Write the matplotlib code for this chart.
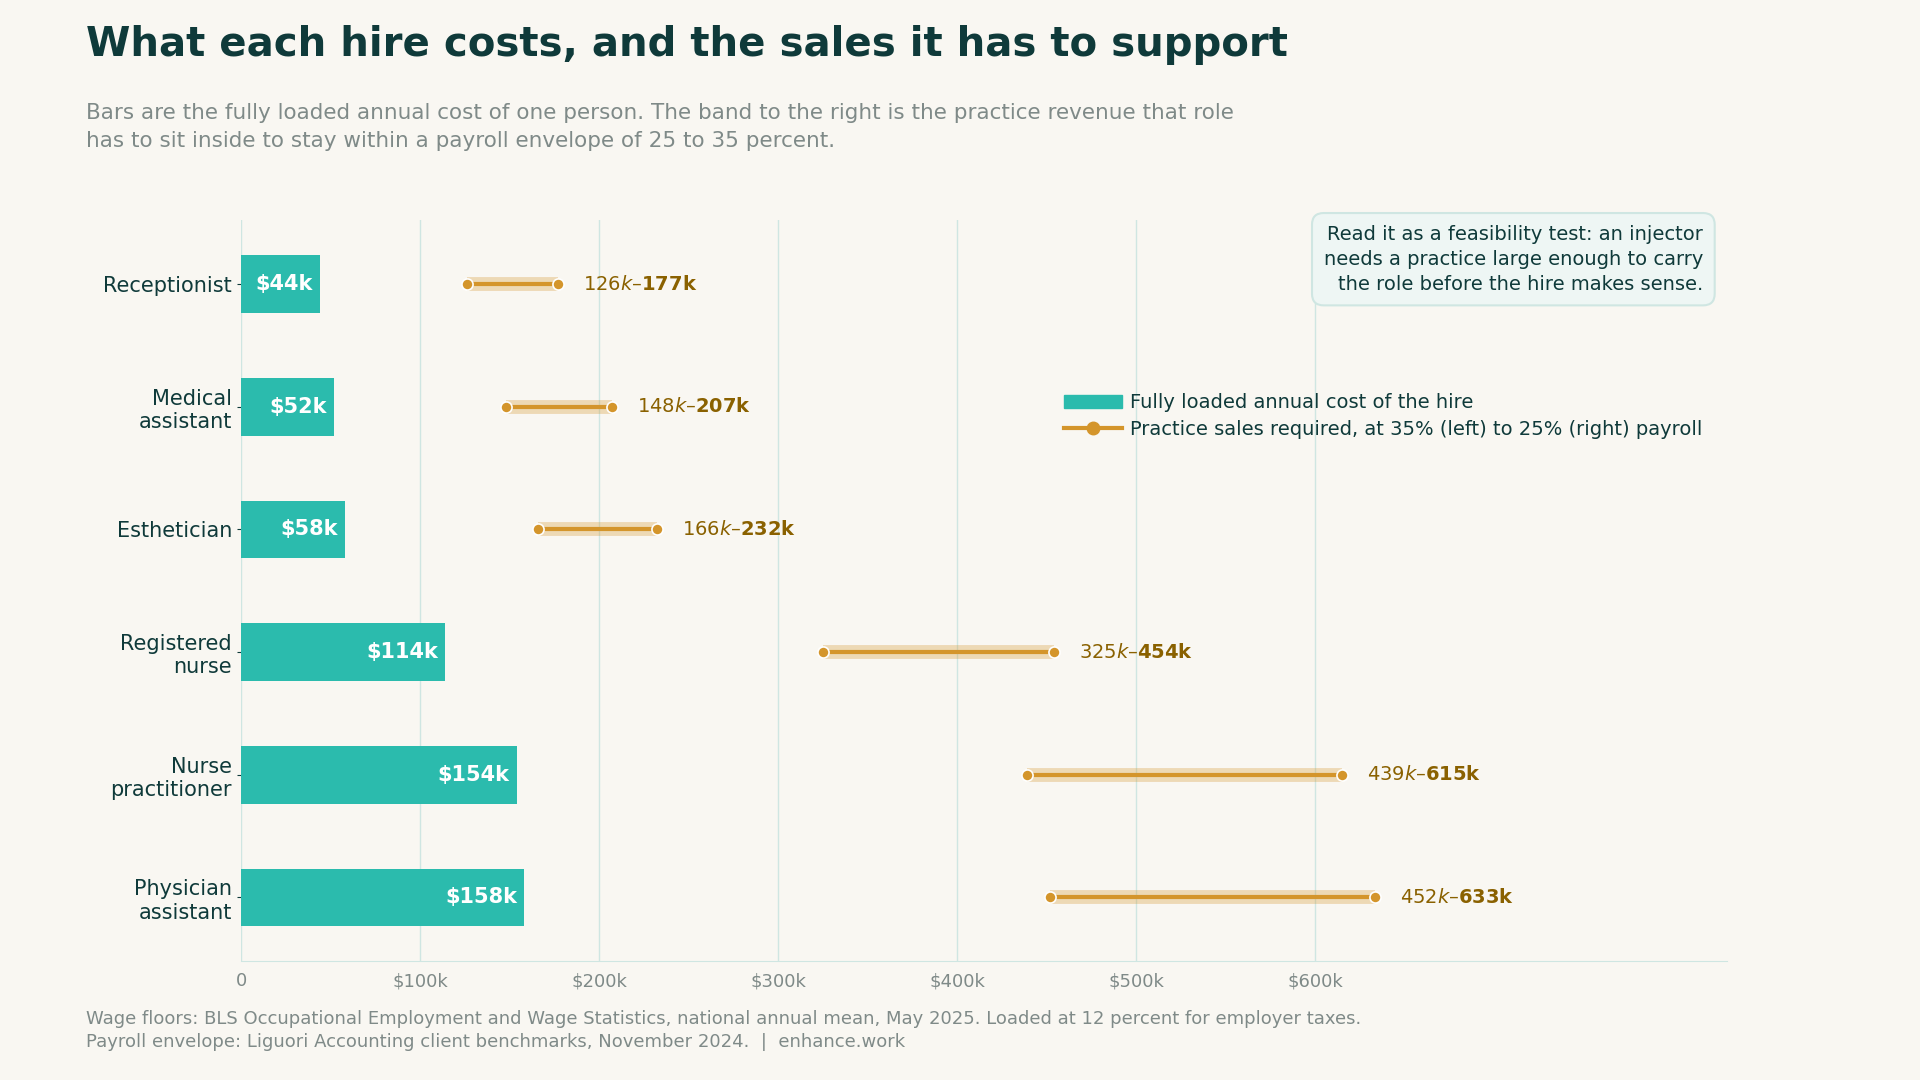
import matplotlib
matplotlib.use("Agg")
import matplotlib.pyplot as plt
from matplotlib.lines import Line2D
from matplotlib.patches import Patch

roles = ["Receptionist", "Medical\nassistant", "Esthetician", "Registered\nnurse", "Nurse\npractitioner", "Physician\nassistant"]
cost_k = [44, 52, 58, 114, 154, 158]
sales_low_k = [126, 148, 166, 325, 439, 452]
sales_high_k = [177, 207, 232, 454, 615, 633]
xticks_k = [0, 100, 200, 300, 400, 500, 600]
xtick_labels = ["0", "$100k", "$200k", "$300k", "$400k", "$500k", "$600k"]

BG = "#f9f7f2"; TEAL = "#2bbbad"; ORANGE = "#d4952b"; GOLD = "#8a6100"; DARK = "#0f3a3a"; GREY = "#7f8a88"

fig = plt.figure(figsize=(19.2, 10.8), dpi=100, facecolor=BG)
ax = fig.add_axes([0.1256, 0.11, 0.774, 0.686], facecolor=BG)

y = list(range(len(roles)))
ax.barh(y, cost_k, height=0.47, color=TEAL, zorder=3)
for yi, c in zip(y, cost_k):
    ax.text(c - 4, yi, f"${c}k", ha="right", va="center", color="white", fontsize=15, fontweight="bold", zorder=4)
for yi, lo, hi in zip(y, sales_low_k, sales_high_k):
    ax.plot([lo, hi], [yi, yi], color=ORANGE, alpha=0.3, lw=10, solid_capstyle="butt", zorder=2)
    ax.plot([lo, hi], [yi, yi], color=ORANGE, lw=3, zorder=3)
    ax.plot([lo, hi], [yi, yi], "o", color=ORANGE, ms=8, mec="white", mew=1.2, zorder=4)
    ax.text(hi + 14, yi, f"${lo}k – ${hi}k", ha="left", va="center", color=GOLD, fontsize=14, fontweight="bold")

ax.set_ylim(5.52, -0.52)
ax.set_xlim(0, 830)
ax.set_yticks(y)
ax.set_yticklabels(roles, fontsize=15, color=DARK)
ax.set_xticks(xticks_k)
ax.set_xticklabels(xtick_labels, fontsize=13, color=GREY)
ax.tick_params(axis="y", length=3, color=DARK)
ax.tick_params(axis="x", length=0, pad=8)
ax.grid(axis="x", color="#cfe6e2", lw=1, zorder=0)
for s in ["top", "right", "left"]:
    ax.spines[s].set_visible(False)
ax.spines["bottom"].set_color("#cfe6e2")

handles = [Patch(color=TEAL), Line2D([0], [0], color=ORANGE, lw=3, marker="o", ms=9)]
ax.legend(handles, ["Fully loaded annual cost of the hire", "Practice sales required, at 35% (left) to 25% (right) payroll"],
          loc="upper right", bbox_to_anchor=(0.995, 0.79), frameon=False, fontsize=14, labelcolor=DARK,
          handlelength=3, handletextpad=0.4, labelspacing=0.4)

fig.text(0.887, 0.76, "Read it as a feasibility test: an injector\nneeds a practice large enough to carry\nthe role before the hire makes sense.",
         ha="right", va="center", fontsize=14, color=DARK, linespacing=1.4,
         bbox=dict(boxstyle="round,pad=0.6", fc="#eef6f4", ec="#cfe6e2", lw=1.5))

fig.text(0.0447, 0.958, "What each hire costs, and the sales it has to support", fontsize=29, fontweight="bold", color=DARK, va="center")
fig.text(0.0447, 0.882, "Bars are the fully loaded annual cost of one person. The band to the right is the practice revenue that role\nhas to sit inside to stay within a payroll envelope of 25 to 35 percent.",
         fontsize=15.5, color=GREY, va="center", linespacing=1.5)
fig.text(0.0447, 0.027, "Wage floors: BLS Occupational Employment and Wage Statistics, national annual mean, May 2025. Loaded at 12 percent for employer taxes.\nPayroll envelope: Liguori Accounting client benchmarks, November 2024.  |  enhance.work",
         fontsize=13, color=GREY, va="bottom", linespacing=1.35)

fig.savefig("out.png", dpi=100, facecolor=BG)
